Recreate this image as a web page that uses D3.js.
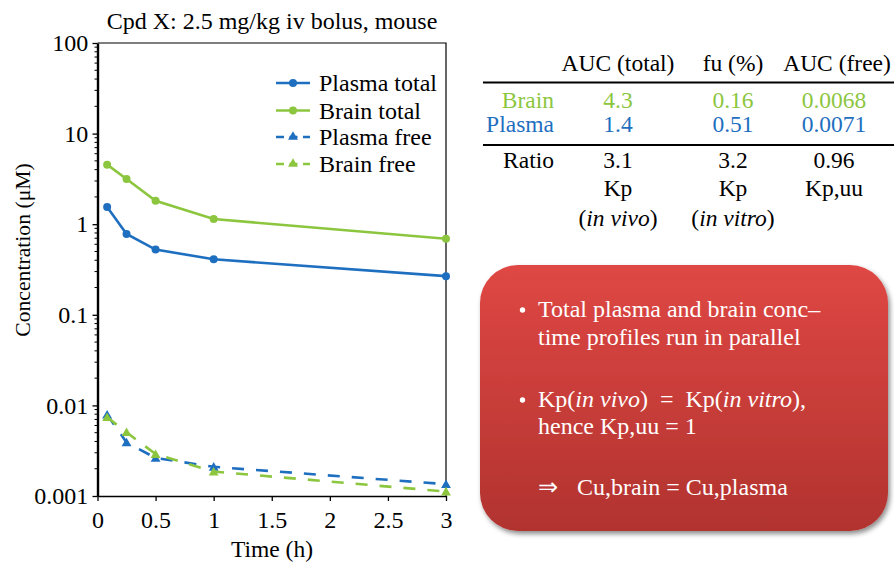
<!DOCTYPE html>
<html>
<head>
<meta charset="utf-8">
<script src="https://cdn.jsdelivr.net/npm/d3@7"></script>
<style>
  html, body { margin: 0; padding: 0; background: #fff; }
  svg { display: block; }
  text { font-family: "Liberation Serif", "Times New Roman", serif; }
</style>
</head>
<body>
<svg id="chart" width="894" height="565"></svg>
<script>
// ---------------- data ----------------
const times = [0.083, 0.25, 0.5, 1, 3];
const plasmaTotal = [1.55, 0.78, 0.525, 0.41, 0.267];
const brainTotal = [4.54, 3.16, 1.81, 1.14, 0.69];
const plasmaFree = [0.0079, 0.0039, 0.00263, 0.0021, 0.00135];
const brainFree = [0.0074, 0.00505, 0.0029, 0.00186, 0.00112];
const seriesNames = ["Plasma total", "Brain total", "Plasma free", "Brain free"];
const xTicks = [0, 0.5, 1, 1.5, 2, 2.5, 3];
const xTickLabels = ["0", "0.5", "1", "1.5", "2", "2.5", "3"];
const yTicks = [0.001, 0.01, 0.1, 1, 10, 100];
const yTickLabels = ["0.001", "0.01", "0.1", "1", "10", "100"];

const tableHeaders = ["AUC (total)", "fu (%)", "AUC (free)"];
const tableRowNames = ["Brain", "Plasma"];
const brainRow = ["4.3", "0.16", "0.0068"];
const plasmaRow = ["1.4", "0.51", "0.0071"];
const ratioRow = ["3.1", "3.2", "0.96"];
const ratioLabel1 = ["Kp", "Kp", "Kp,uu"];
const ratioLabel2 = ["in vivo", "in vitro", ""];

const blue = "#1f6fc0";
const green = "#8cc63f";

// ---------------- layout ----------------
const svg = d3.select("#chart");
const F = '"Liberation Serif", "Times New Roman", serif';
const plot = { left: 97.5, right: 446, top: 43, bottom: 496 };

const x = d3.scaleLinear().domain([0, 3]).range([plot.left, plot.right]);
const y = d3.scaleLog().domain([0.001, 100]).range([plot.bottom, plot.top]);

// frame (top & right)
svg.append("path")
  .attr("d", `M${plot.left},${plot.top}H${plot.right}V${plot.bottom}`)
  .attr("fill", "none").attr("stroke", "#000").attr("stroke-width", 1.2);

// x axis
const xAxis = d3.axisBottom(x).tickValues(xTicks)
  .tickFormat((d, i) => xTickLabels[i]).tickSize(5).tickSizeOuter(0);
const gx = svg.append("g").attr("transform", `translate(0,${plot.bottom})`).call(xAxis);
gx.select(".domain").attr("stroke-width", 1.5);
gx.selectAll(".tick line").attr("stroke-width", 1.3);
gx.selectAll("text").attr("font-family", F).attr("font-size", 24).attr("fill", "#000").attr("dy", "1.0em");

// y axis minor ticks
const minor = [];
for (let e = -3; e < 2; e++) for (let m = 2; m <= 9; m++) minor.push(m * Math.pow(10, e));
svg.append("g").selectAll("line").data(minor).join("line")
  .attr("x1", plot.left - 3).attr("x2", plot.left)
  .attr("y1", d => y(d)).attr("y2", d => y(d))
  .attr("stroke", "#000").attr("stroke-width", 1);

const yAxis = d3.axisLeft(y).tickValues(yTicks)
  .tickFormat((d, i) => yTickLabels[i]).tickSize(5).tickSizeOuter(0);
const gy = svg.append("g").attr("transform", `translate(${plot.left},0)`).call(yAxis);
gy.select(".domain").attr("stroke-width", 2.4);
gy.selectAll(".tick line").attr("stroke-width", 1.3);
gy.selectAll("text").attr("font-family", F).attr("font-size", 24).attr("fill", "#000").attr("dx", "-0.05em");

// axis titles
svg.append("text").attr("x", 272).attr("y", 557).attr("text-anchor", "middle")
  .attr("font-size", 23.5).text("Time (h)");
svg.append("text").attr("transform", "translate(30,250) rotate(-90)")
  .attr("text-anchor", "middle").attr("font-size", 21.7).text("Concentration (μM)");
svg.append("text").attr("x", 272).attr("y", 29).attr("text-anchor", "middle")
  .attr("font-size", 24).text("Cpd X: 2.5 mg/kg iv bolus, mouse");

// series
const series = [
  { name: seriesNames[0], vals: plasmaTotal, color: blue, dash: null, marker: "circle" },
  { name: seriesNames[1], vals: brainTotal, color: green, dash: null, marker: "circle" },
  { name: seriesNames[2], vals: plasmaFree, color: blue, dash: "12,12", marker: "triangle" },
  { name: seriesNames[3], vals: brainFree, color: green, dash: "12,12", marker: "triangle" }
];
const line = d3.line().x(d => x(d[0])).y(d => y(d[1]));
const triSym = d3.symbol().type(d3.symbolTriangle).size(42);

series.forEach(s => {
  const pts = times.map((t, i) => [t, s.vals[i]]);
  svg.append("path").datum(pts).attr("d", line)
    .attr("fill", "none").attr("stroke", s.color).attr("stroke-width", 2.6)
    .attr("stroke-dasharray", s.dash);
  const g = svg.append("g");
  if (s.marker === "circle") {
    g.selectAll("circle").data(pts).join("circle")
      .attr("cx", d => x(d[0])).attr("cy", d => y(d[1])).attr("r", 4)
      .attr("fill", s.color);
  } else {
    g.selectAll("path").data(pts).join("path")
      .attr("d", triSym).attr("transform", d => `translate(${x(d[0])},${y(d[1]) + 1})`)
      .attr("fill", s.color);
  }
});

// legend
const legY = [83, 110.5, 137, 164];
series.forEach((s, i) => {
  const g = svg.append("g").attr("transform", `translate(0,${legY[i]})`);
  g.append("line").attr("x1", 276).attr("x2", 310).attr("y1", 0).attr("y2", 0)
    .attr("stroke", s.color).attr("stroke-width", 2.6)
    .attr("stroke-dasharray", s.dash ? "8,5.5" : null);
  if (s.marker === "circle") g.append("circle").attr("cx", 293).attr("cy", 0).attr("r", 4).attr("fill", s.color);
  else g.append("path").attr("d", triSym).attr("transform", "translate(293,0)").attr("fill", s.color);
  g.append("text").attr("x", 319).attr("y", 8).attr("font-size", 24).text(s.name);
});

// ---------------- table ----------------
const colX = [618, 733, 834];
const tbl = svg.append("g").attr("font-size", 23.5);
tbl.selectAll(".hdr").data(tableHeaders).join("text")
  .attr("x", (d, i) => colX[i] + (i === 2 ? 3 : 0)).attr("y", 71).attr("text-anchor", "middle").text(d => d);
tbl.append("line").attr("x1", 483).attr("x2", 894).attr("y1", 82.5).attr("y2", 82.5)
  .attr("stroke", "#000").attr("stroke-width", 2.2);
tbl.append("line").attr("x1", 483).attr("x2", 894).attr("y1", 145).attr("y2", 145)
  .attr("stroke", "#000").attr("stroke-width", 2.2);
const rowColors = [green, blue];
[brainRow, plasmaRow].forEach((row, r) => {
  const yy = [108, 132][r];
  tbl.append("text").attr("x", 554).attr("y", yy).attr("text-anchor", "end")
    .attr("fill", rowColors[r]).text(tableRowNames[r]);
  row.forEach((v, i) => {
    tbl.append("text").attr("x", colX[i]).attr("y", yy).attr("text-anchor", "middle")
      .attr("fill", rowColors[r]).text(v);
  });
});
tbl.append("text").attr("x", 554).attr("y", 168).attr("text-anchor", "end").text("Ratio");
ratioRow.forEach((v, i) => {
  tbl.append("text").attr("x", colX[i]).attr("y", 168).attr("text-anchor", "middle").text(v);
});
ratioLabel1.forEach((v, i) => {
  tbl.append("text").attr("x", colX[i]).attr("y", 196).attr("text-anchor", "middle").text(v);
});
ratioLabel2.forEach((v, i) => {
  if (!v) return;
  const t = tbl.append("text").attr("x", colX[i]).attr("y", 226).attr("text-anchor", "middle");
  t.append("tspan").text("(");
  t.append("tspan").attr("font-style", "italic").text(v);
  t.append("tspan").text(")");
});

// ---------------- red box ----------------
const defs = svg.append("defs");
const grad = defs.append("linearGradient").attr("id", "redGrad")
  .attr("x1", 0).attr("y1", 0).attr("x2", 0).attr("y2", 1);
grad.append("stop").attr("offset", "0%").attr("stop-color", "#df4744");
grad.append("stop").attr("offset", "100%").attr("stop-color", "#b1332f");
const filt = defs.append("filter").attr("id", "shadow")
  .attr("x", "-10%").attr("y", "-10%").attr("width", "120%").attr("height", "125%");
filt.append("feDropShadow").attr("dx", 2).attr("dy", 3).attr("stdDeviation", 2.5)
  .attr("flood-color", "#000").attr("flood-opacity", 0.45);

svg.append("rect").attr("x", 480).attr("y", 265).attr("width", 408).attr("height", 266)
  .attr("rx", 38).attr("ry", 38).attr("fill", "url(#redGrad)").attr("filter", "url(#shadow)");

const bx = svg.append("g").attr("font-size", 24).attr("fill", "#fff");
function bullet(yy) {
  bx.append("circle").attr("cx", 522.5).attr("cy", yy - 7).attr("r", 2.7).attr("fill", "#fff");
}
bullet(317);
bx.append("text").attr("x", 538).attr("y", 317).text("Total plasma and brain conc–");
bx.append("text").attr("x", 538).attr("y", 345).text("time profiles run in parallel");
bullet(407);
const t1 = bx.append("text").attr("x", 538).attr("y", 407).attr("xml:space", "preserve");
t1.append("tspan").text("Kp(");
t1.append("tspan").attr("font-style", "italic").text("in vivo");
t1.append("tspan").text(")  =  Kp(");
t1.append("tspan").attr("font-style", "italic").text("in vitro");
t1.append("tspan").text("),");
bx.append("text").attr("x", 538).attr("y", 434).text("hence Kp,uu = 1");
bx.append("text").attr("x", 538).attr("y", 495).text("⇒");
bx.append("text").attr("x", 577).attr("y", 495).text("Cu,brain = Cu,plasma");
</script>
</body>
</html>
